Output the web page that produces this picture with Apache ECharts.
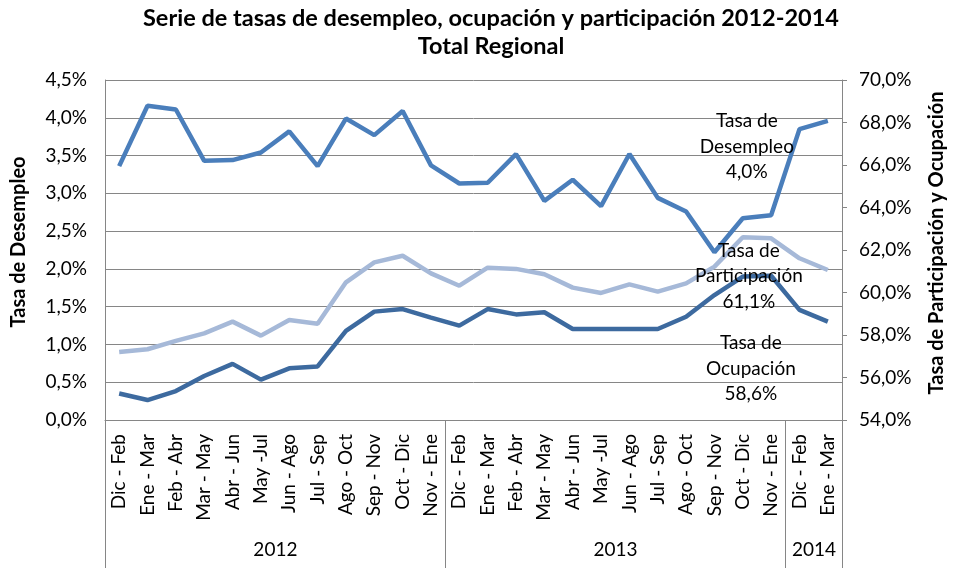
<!DOCTYPE html>
<html>
<head>
<meta charset="utf-8">
<script src="https://cdn.jsdelivr.net/npm/echarts@6/dist/echarts.min.js"></script>
<style>html,body{margin:0;padding:0;background:#fff}#c{width:955px;height:568px}</style>
</head>
<body>
<div id="c"></div>
<script>
// Categories (two-level axis: period / year)
const periods = ['Dic - Feb','Ene - Mar','Feb - Abr','Mar - May','Abr - Jun','May -Jul','Jun - Ago','Jul - Sep','Ago - Oct','Sep - Nov','Oct - Dic','Nov - Ene',
                 'Dic - Feb','Ene - Mar','Feb - Abr','Mar - May','Abr - Jun','May -Jul','Jun - Ago','Jul - Sep','Ago - Oct','Sep - Nov','Oct - Dic','Nov - Ene',
                 'Dic - Feb','Ene - Mar'];
const years = ['2012','2013','2014'];
const yearSpans = [12,12,2];

// Series values (%)
const desempleo = [3.36,4.16,4.11,3.43,3.44,3.54,3.82,3.36,3.99,3.77,4.09,3.37,
                   3.13,3.14,3.52,2.90,3.18,2.83,3.52,2.94,2.76,2.22,2.67,2.71,
                   3.85,3.96];
const participacion = [57.20,57.33,57.72,58.08,58.63,57.97,58.71,58.53,60.48,61.42,61.73,60.90,
                       60.32,61.17,61.11,60.86,60.23,59.98,60.38,60.04,60.43,61.22,62.60,62.55,
                       61.61,61.06];
const ocupacion = [55.25,54.94,55.36,56.07,56.64,55.90,56.43,56.52,58.19,59.10,59.22,58.82,
                   58.44,59.22,58.97,59.07,58.28,58.28,58.28,58.28,58.86,59.88,60.75,60.79,
                   59.18,58.63];

// Axis ticks
const leftTicks = {min:0, max:4.5, interval:0.5};
const rightTicks = {min:54, max:70, interval:2};

const FONT = 'Lato';
const GRAY = '#868686';
const fmt = v => v.toFixed(1).replace('.', ',') + '%';

// boundaries of year groups
const boundaries = [];
let acc = 0;
yearSpans.forEach(s => { boundaries.push(acc); acc += s; });
const yearLabelIdx = {};
acc = 0;
yearSpans.forEach((s, k) => { yearLabelIdx[acc + s/2 - 1] = years[k]; acc += s; });

function endMark(data, name, offset) {
  const last = data.length - 1;
  return {
    symbol: 'circle', symbolSize: 1, silent: true,
    itemStyle: {color: 'rgba(0,0,0,0)'},
    label: {
      show: true, position: 'inside', offset: offset,
      formatter: name + '\n' + fmt(data[last]),
      color: '#000', fontFamily: FONT, fontSize: 19, lineHeight: 25.5, align: 'center'
    },
    data: [{coord: [last, data[last]]}]
  };
}

const chart = echarts.init(document.getElementById('c'), null, {renderer: 'canvas'});
chart.setOption({
  animation: false,
  backgroundColor: '#fff',
  title: {
    text: 'Serie de tasas de desempleo, ocupación y participación 2012-2014\nTotal Regional',
    left: 491, top: 4, padding: 0, textAlign: 'center',
    textStyle: {fontFamily: FONT, fontWeight: 'bold', fontSize: 23.5, lineHeight: 28, color: '#000'}
  },
  grid: {left: 105, right: 103, top: 80, bottom: 148, containLabel: false},
  xAxis: [{
    type: 'category', data: periods, boundaryGap: true,
    axisLine: {show: true, lineStyle: {color: GRAY, width: 1}},
    axisTick: {show: true, length: 148, interval: (i) => boundaries.includes(i), lineStyle: {color: GRAY, width: 1}},
    axisLabel: {interval: 0, rotate: 90, margin: 14, fontFamily: FONT, fontSize: 19, color: '#000'},
    splitLine: {show: false}
  }, {
    type: 'category', data: periods, boundaryGap: true, position: 'bottom',
    axisLine: {show: false}, axisTick: {show: false},
    axisLabel: {
      interval: (i) => yearLabelIdx[i] !== undefined,
      formatter: (v, i) => yearLabelIdx[i] || '',
      margin: 120, padding: [0, 0, 0, 29],
      fontFamily: FONT, fontSize: 19, color: '#000'
    }
  }],
  yAxis: [{
    type: 'value', position: 'left', ...leftTicks,
    name: 'Tasa de Desempleo', nameLocation: 'middle', nameRotate: 90, nameGap: 76,
    nameTextStyle: {fontFamily: FONT, fontWeight: 'bold', fontSize: 20, color: '#000', padding: [0, 0, 0, 16]},
    axisLine: {show: true, lineStyle: {color: GRAY}},
    axisTick: {show: false},
    axisLabel: {formatter: fmt, fontFamily: FONT, fontSize: 19, color: '#000', margin: 18},
    splitLine: {show: true, lineStyle: {color: GRAY, width: 1}}
  }, {
    type: 'value', position: 'right', ...rightTicks,
    name: 'Tasa de Participación y Ocupación', nameLocation: 'middle', nameRotate: 90, nameGap: 85,
    nameTextStyle: {fontFamily: FONT, fontWeight: 'bold', fontSize: 20, color: '#000', padding: [0, 0, 0, 14]},
    axisLine: {show: true, lineStyle: {color: GRAY}},
    axisTick: {show: true, length: 5, lineStyle: {color: GRAY}},
    axisLabel: {formatter: fmt, fontFamily: FONT, fontSize: 19, color: '#000', margin: 17},
    splitLine: {show: false}
  }],
  series: [{
    name: 'Tasa de Desempleo', type: 'line', data: desempleo, yAxisIndex: 0, xAxisIndex: 0,
    symbol: 'none', lineStyle: {color: '#4A7EBB', width: 4.5}, itemStyle: {color: '#4A7EBB'},
    markPoint: endMark(desempleo, 'Tasa de\nDesempleo', [-81, 26]), z: 3
  }, {
    name: 'Tasa de Participación', type: 'line', data: participacion, yAxisIndex: 1, xAxisIndex: 0,
    symbol: 'none', lineStyle: {color: '#A6B9D8', width: 4.5}, itemStyle: {color: '#A6B9D8'},
    markPoint: endMark(participacion, 'Tasa de\nParticipación', [-79, 6]), z: 2
  }, {
    name: 'Tasa de Ocupación', type: 'line', data: ocupacion, yAxisIndex: 1, xAxisIndex: 0,
    symbol: 'none', lineStyle: {color: '#3D6A9F', width: 4.5}, itemStyle: {color: '#3D6A9F'},
    markPoint: endMark(ocupacion, 'Tasa de\nOcupación', [-77, 47]), z: 2
  }]
});
</script>
</body>
</html>
